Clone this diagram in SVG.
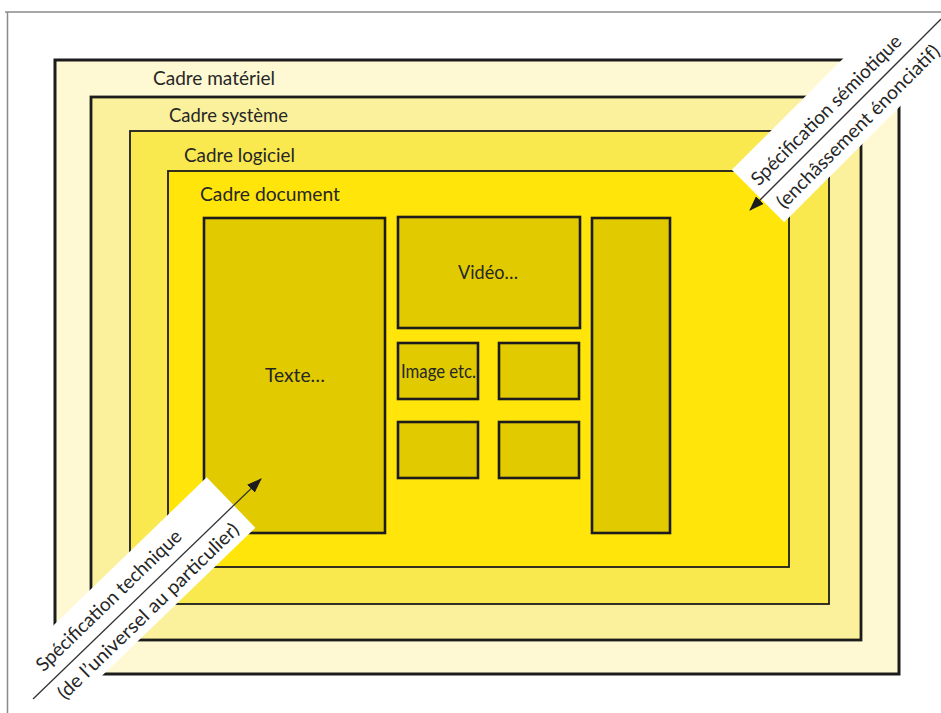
<svg xmlns="http://www.w3.org/2000/svg" width="941" height="713" viewBox="0 0 941 713">
<style>
.lbl{font-family:Lato,"Liberation Sans",sans-serif;font-size:19px;fill:#262626}
.box{stroke:#1c1c1c}
.inner{fill:#E1CB00;stroke:#1c1c1c;stroke-width:2.6}
.band{fill:#ffffff}
.conn{stroke:#333;stroke-width:1.3;fill:none;marker-end:url(#ah)}
</style>
<defs>
<marker id="ah" markerUnits="userSpaceOnUse" markerWidth="15" markerHeight="11" refX="14" refY="5.5" orient="auto">
<path d="M0,0 L15,5.5 L0,11 z" fill="#1c1c1c"/>
</marker>
</defs>
<rect x="0" y="0" width="941" height="713" fill="#ffffff"/>
<g id="cadre-materiel">
<rect class="box" x="55" y="60" width="844" height="614" fill="#FEF8D3" stroke-width="3"/>
<text class="lbl" x="153" y="85" textLength="122" lengthAdjust="spacingAndGlyphs">Cadre matériel</text>
</g>
<g id="cadre-systeme">
<rect class="box" x="91" y="97" width="770" height="543" fill="#FBF19C" stroke-width="2.8"/>
<text class="lbl" x="169" y="122" textLength="119" lengthAdjust="spacingAndGlyphs">Cadre système</text>
</g>
<g id="cadre-logiciel">
<rect class="box" x="130" y="131" width="699" height="473" fill="#F9E94F" stroke-width="1.8"/>
<text class="lbl" x="184" y="162" textLength="111" lengthAdjust="spacingAndGlyphs">Cadre logiciel</text>
</g>
<g id="cadre-document">
<rect class="box" x="168" y="171" width="621" height="396" fill="#FFE50A" stroke-width="1.8"/>
<text class="lbl" x="200" y="201" textLength="140" lengthAdjust="spacingAndGlyphs">Cadre document</text>
</g>
<g id="texte">
<rect class="inner" x="204" y="218" width="181" height="315"/>
<text class="lbl" x="265" y="382" textLength="60" lengthAdjust="spacingAndGlyphs">Texte…</text>
</g>
<g id="video">
<rect class="inner" x="398" y="217" width="182" height="111"/>
<text class="lbl" x="458" y="279" textLength="60" lengthAdjust="spacingAndGlyphs">Vidéo…</text>
</g>
<g id="image">
<rect class="inner" x="398" y="343" width="80" height="56"/>
<text class="lbl" x="401" y="378" textLength="75" lengthAdjust="spacingAndGlyphs">Image etc.</text>
</g>
<g id="box-b">
<rect class="inner" x="499" y="343" width="80" height="56"/>
</g>
<g id="box-c">
<rect class="inner" x="398" y="422" width="80" height="56"/>
</g>
<g id="box-d">
<rect class="inner" x="499" y="422" width="80" height="56"/>
</g>
<g id="colonne">
<rect class="inner" x="592" y="218" width="78" height="315"/>
</g>
<g id="specification-semiotique" transform="translate(758,196) rotate(-45)">
<rect class="band" x="0" y="-37" width="330" height="74"/>
<text class="lbl" x="7" y="-6" textLength="204" lengthAdjust="spacingAndGlyphs">Spécification sémiotique</text>
<text class="lbl" x="9" y="28" textLength="222" lengthAdjust="spacingAndGlyphs">(enchâssement énonciatif)</text>
</g>
<g id="specification-technique" transform="translate(231,502.5) rotate(-44)">
<rect class="band" x="-420" y="-35" width="420" height="70"/>
<text class="lbl" x="-253" y="-8" textLength="194" lengthAdjust="spacingAndGlyphs">Spécification technique</text>
<text class="lbl" x="-257" y="27" textLength="244" lengthAdjust="spacingAndGlyphs">(de l’universel au particulier)</text>
</g>
<g id="connectors">
<line class="conn" x1="941" y1="19" x2="750" y2="210"/>
<line class="conn" x1="33" y1="699" x2="261" y2="479"/>
</g>
<path d="M5,12 H941 M7.5,12 V713" stroke="#8a8a8a" stroke-width="1.5" fill="none"/>
</svg>
